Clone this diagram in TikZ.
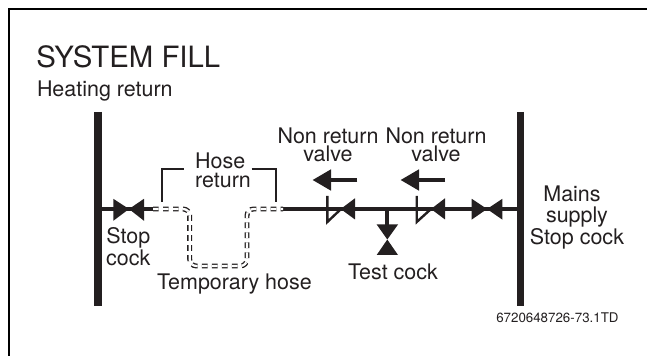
\documentclass[tikz,border=0pt]{standalone}
\usepackage{fontspec}
\setmainfont{TeX Gyre Heros}
\definecolor{ink}{HTML}{231F20}
\tikzset{
  x=0.75pt,y=-0.75pt,
  frameline/.style={draw=black,line width=1.5pt,line cap=butt},
  bar/.style={draw=ink,line width=5.6pt},
  pipe/.style={draw=ink,line width=2.8pt},
  thinpipe/.style={draw=ink,line width=1.8pt},
  solid tri/.style={fill=ink,draw=none},
  hose/.style={draw=ink,double=white,double distance=1.7pt,line width=1pt,dash pattern=on 4.3pt off 3.2pt,rounded corners=5pt},
  bracket/.style={draw=ink,line width=1.5pt,line cap=butt},
  lbl/.style={inner sep=0pt,outer sep=0pt,text=ink,font=\fontsize{16.1}{#1}\selectfont,align=center},
  lbl/.default=14,
  title/.style={inner sep=0pt,text=ink,font=\fontsize{22}{24}\selectfont},
  tiny/.style={inner sep=0pt,text=ink,font=\fontsize{10}{12}\selectfont},
}
\begin{document}
\begin{tikzpicture}
\useasboundingbox (0,0) rectangle (647,356);
% frame
\coordinate (fa) at (9,356); \coordinate (fb) at (9,9); \coordinate (fc) at (647,9);
\draw[frameline] (fa) -- (fb) -- (fc);
% titles
\node[title,anchor=base west] (ttl) at (36,68) {SYSTEM FILL};
\node[lbl,anchor=base west] (hr) at (37,97) {Heating return};
% bars
\coordinate (lt) at (98,112); \coordinate (lb) at (98,306);
\coordinate (rt) at (520.3,112); \coordinate (rb) at (520.3,306);
\draw[bar] (lt) -- (lb);
\draw[bar] (rt) -- (rb);
\coordinate (lm) at (98,209); \coordinate (rm) at (520.3,209);
% pipe stubs
\coordinate (h1) at (153,209); \coordinate (h2) at (283,209);
\draw[pipe] (lm) -- (h1);
\draw[pipe] (h2) -- (rm);
% hose
\coordinate (ha) at (189.7,209); \coordinate (hb) at (189.7,266); \coordinate (hc) at (247,266); \coordinate (hd) at (247,209);
\draw[hose] (h1) -- (ha) -- (hb) -- (hc) -- (hd) -- (h2);
% left stop cock
\fill[solid tri] (113.3,198.8) -- (129,209) -- (113.3,220.8) -- cycle;
\fill[solid tri] (144,198.8) -- (129,209) -- (144,220.8) -- cycle;
% right stop cock
\fill[solid tri] (471.7,198.8) -- (487,209) -- (471.7,219.6) -- cycle;
\fill[solid tri] (502.3,198.8) -- (487,209) -- (502.3,219.6) -- cycle;
% non return valves
\fill[solid tri] (355,198.3) -- (340.7,209) -- (355,219.5) -- cycle;
\coordinate (v1a) at (327.3,196); \coordinate (v1b) at (327.3,222); \coordinate (v1c) at (341,209);
\draw[thinpipe,line join=miter] (v1a) -- (v1b) -- (v1c);
\fill[solid tri] (445,198.3) -- (431,209) -- (445,219.5) -- cycle;
\coordinate (v2a) at (416.7,196); \coordinate (v2b) at (416.7,222); \coordinate (v2c) at (431,209);
\draw[thinpipe,line join=miter] (v2a) -- (v2b) -- (v2c);
% test cock
\coordinate (t1) at (387.3,209); \coordinate (t2) at (387.3,226);
\draw[pipe] (t1) -- (t2);
\fill[solid tri] (376.7,224.5) -- (398,224.5) -- (387.3,239.5) -- cycle;
\fill[solid tri] (376.7,255) -- (398,255) -- (387.3,239.5) -- cycle;
% flow arrows
\coordinate (a1s) at (357.3,180); \coordinate (a1e) at (328,180);
\draw[pipe] (a1s) -- (a1e);
\fill[solid tri] (312.7,180) -- (331,169.3) -- (331,190.7) -- cycle;
\coordinate (a2s) at (445,180); \coordinate (a2e) at (416,180);
\draw[pipe] (a2s) -- (a2e);
\fill[solid tri] (400.7,180) -- (419,169.3) -- (419,190.7) -- cycle;
% hose return brackets
\coordinate (b1) at (161.7,202); \coordinate (b2) at (161.7,169.3); \coordinate (b3) at (184,169.3);
\draw[bracket] (b1) -- (b2) -- (b3);
\coordinate (b4) at (251.7,169.3); \coordinate (b5) at (275.7,169.3); \coordinate (b6) at (275.7,202);
\draw[bracket] (b4) -- (b5) -- (b6);
% labels
\node[lbl=13.7,align=left] (hoseret) at (223,170.4) {Hose\\return};
\node[lbl=14.2] (stopl) at (128.3,246.8) {Stop\\cock};
\node[lbl,anchor=base west] (temp) at (157,290) {Temporary hose};
\node[lbl,anchor=base] (testc) at (393,280) {Test cock};
\node[lbl=13.3] (nr1) at (328,145.1) {Non return\\valve};
\node[lbl=13.3] (nr2) at (436,145.1) {Non return\\valve};
\node[lbl=15.4] (mains) at (577,217.8) {Mains\hspace*{7.5pt}\\supply\hspace*{7.5pt}\\Stop cock};
\node[tiny,anchor=base west] (code) at (496,322.7) {6720648726-73.1TD};
\end{tikzpicture}
\end{document}
